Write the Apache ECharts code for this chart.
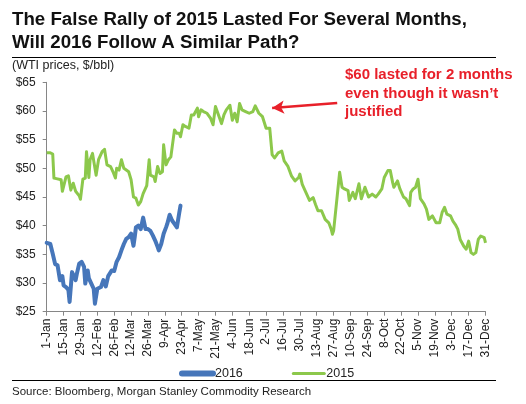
<!DOCTYPE html>
<html>
<head>
<meta charset="utf-8">
<script src="https://cdn.jsdelivr.net/npm/echarts@6/dist/echarts.min.js"></script>
<style>html,body{margin:0;padding:0;background:#fff;}#c{width:526px;height:404px;}</style>
</head>
<body>
<div id="c"></div>
<script>
var tickLabels = ['1-Jan','15-Jan','29-Jan','12-Feb','26-Feb','12-Mar','26-Mar','9-Apr','23-Apr','7-May','21-May','4-Jun','18-Jun','2-Jul','16-Jul','30-Jul','13-Aug','27-Aug','10-Sep','24-Sep','8-Oct','22-Oct','5-Nov','19-Nov','3-Dec','17-Dec','31-Dec'];

var days2015 = [0,3,5,6,8,12,13,16,18,19,20,22,24,27,28,30,32,33,35,36,38,39,41,43,46,48,50,53,55,57,58,60,62,64,68,70,72,74,76,78,80,83,85,86,89,90,92,94,96,97,99,101,103,106,108,110,111,113,115,118,120,122,125,126,128,130,133,136,138,140,142,145,147,149,152,154,156,158,160,162,165,168,171,173,176,179,182,185,187,189,192,195,197,200,203,206,209,210,212,215,218,221,223,225,228,231,234,236,237,238,241,242,243,245,247,250,251,254,256,259,261,264,267,270,273,275,278,280,283,285,287,288,291,293,296,298,301,302,304,306,308,310,313,315,317,320,323,326,328,330,332,335,337,339,341,343,346,348,350,352,354,356,358,360,363,364];
var prices2015 = [52.7,52.7,52.5,48.3,48.2,48.0,46.0,48.5,48.7,48.6,46.2,47.4,46.0,45.2,44.6,48.1,48.3,52.9,48.4,51.5,52.6,52.9,48.8,51.5,52.9,53.3,50.6,50.3,49.4,48.3,50.0,49.7,51.5,50.0,49.4,48.0,45.0,44.8,43.6,44.2,45.6,47.0,51.5,48.8,48.5,47.7,50.3,49.1,49.4,54.1,50.6,51.5,52.0,56.7,56.1,56.1,55.5,57.6,57.3,57.0,59.3,59.3,60.5,59.0,60.2,59.9,59.6,58.7,57.6,60.8,59.6,57.8,59.3,60.2,61.0,58.4,59.6,58.1,61.3,60.2,59.9,59.6,59.9,60.9,59.6,59.0,57.0,57.0,52.4,51.8,52.7,53.0,51.3,50.4,48.7,47.8,48.4,49.0,47.2,45.8,44.4,44.9,43.7,42.6,42.6,41.1,40.5,39.4,38.5,39.1,45.2,45.5,49.3,46.7,46.4,46.1,44.4,45.8,44.7,47.3,44.7,46.7,45.0,45.5,45.0,45.5,46.4,48.4,49.6,49.6,47.5,46.7,47.8,46.4,45.0,44.7,43.5,45.8,46.4,46.7,48.1,44.7,43.8,42.9,41.1,41.7,40.5,40.5,42.3,43.2,42.0,41.7,40.8,40.2,39.4,37.6,36.4,35.9,37.3,35.3,35.0,35.3,37.6,38.2,37.9,37.0];

var days2016 = [0,3,5,7,9,11,13,14,16,18,19,21,22,24,25,27,29,31,32,34,35,37,39,40,42,45,46,47,49,51,54,56,58,60,62,64,66,68,70,72,73,74,76,78,80,82,84,86,88,90,92,93,95,97,99,100,102,104,106,108,110,111];
var prices2016 = [37.0,36.8,35.1,33.3,33.1,30.5,31.2,29.6,29.3,28.8,26.7,31.9,32.2,30.5,31.6,33.4,33.7,32.8,29.9,32.2,30.8,29.9,29.0,26.4,29.0,29.3,29.0,30.5,29.4,31.2,32.2,32.1,33.7,34.5,35.7,36.8,37.7,38.0,38.6,36.5,38.0,39.7,40.0,39.4,41.4,39.4,39.4,39.1,38.3,37.4,36.3,35.7,36.8,38.6,39.7,40.3,41.9,40.9,40.3,39.7,42.3,43.5];

var seriesNames = ['2016','2015'];
var yTicks = {min:25, max:65, step:5};

function pairs(d, p){ return d.map(function(x,i){ return [x, p[i]]; }); }

var FONT = "'Liberation Sans', Arial, sans-serif";
var legendWidths = [6, 3];
var chart = echarts.init(document.getElementById('c'), null, {renderer:'canvas'});
chart.setOption({
  animation:false,
  backgroundColor:'#fff',
  textStyle:{fontFamily:FONT},
  title:{
    text:'The False Rally of 2015 Lasted For Several Months,\nWill 2016 Follow A Similar Path?',
    left:12, top:9, padding:0,
    textStyle:{fontFamily:FONT, fontSize:18.7, fontWeight:'bold', color:'#111', lineHeight:22.6}
  },
  grid:{left:46.7, right:40.5, top:82.3, bottom:92.3, containLabel:false},
  legend:{
    data:seriesNames.map(function(n,i){ return {name:n, itemStyle:{opacity:0}, lineStyle:{width:legendWidths[i], cap:'round'}}; }),
    left:174, top:362, itemWidth:31, itemHeight:8, itemGap:49,
    textStyle:{fontFamily:FONT, fontSize:12.5, color:'#222', padding:[0,0,0,-3]}
  },
  xAxis:{
    type:'value', min:0, max:364, interval:14,
    axisLine:{show:true, lineStyle:{color:'#868686', width:1}},
    axisTick:{show:true, length:4, lineStyle:{color:'#868686'}},
    splitLine:{show:false},
    axisLabel:{rotate:90, margin:7, fontSize:12, color:'#222', fontFamily:FONT,
      formatter:function(v){ return tickLabels[Math.round(v/14)] || ''; }}
  },
  yAxis:{
    type:'value', min:yTicks.min, max:yTicks.max, interval:yTicks.step,
    axisLine:{show:true, lineStyle:{color:'#868686', width:1}},
    axisTick:{show:true, length:4, lineStyle:{color:'#868686'}},
    splitLine:{show:false},
    axisLabel:{margin:11, fontSize:12, color:'#222', fontFamily:FONT, formatter:'${value}'}
  },
  series:[
    {name:'2016', type:'line', data:pairs(days2016, prices2016), showSymbol:false, symbol:'none',
     lineStyle:{color:'#4676BA', width:4, cap:'round', join:'round'}, itemStyle:{color:'#4676BA'}, z:3},
    {name:'2015', type:'line', data:pairs(days2015, prices2015), showSymbol:false, symbol:'none',
     lineStyle:{color:'#8CC84B', width:3, join:'round'}, itemStyle:{color:'#8CC84B'}, z:2,
     markLine:{silent:true, symbol:['none','arrow'], symbolSize:[10,12],
       lineStyle:{color:'#E8202A', width:2.5, type:'solid'}, label:{show:false},
       data:[[{coord:[241,61.4]},{coord:[187,60.5]}]]}}
  ],
  graphic:[
    {type:'line', shape:{x1:12, y1:57.5, x2:496, y2:57.5}, style:{stroke:'#000', lineWidth:1}},
    {type:'line', shape:{x1:12, y1:380.5, x2:496, y2:380.5}, style:{stroke:'#000', lineWidth:1}},
    {type:'text', left:12, top:59, style:{text:'(WTI prices, $/bbl)', font:"12.5px 'Liberation Sans', Arial, sans-serif", fill:'#222'}},
    {type:'text', left:345, top:66, style:{text:'$60 lasted for 2 months\neven though it wasn\u2019t\njustified', font:"bold 15px 'Liberation Sans', Arial, sans-serif", fill:'#E8202A', lineHeight:18.3}},
    {type:'text', left:12, top:386, style:{text:'Source: Bloomberg, Morgan Stanley Commodity Research', font:"11.5px 'Liberation Sans', Arial, sans-serif", fill:'#222'}}
  ]
});
</script>
</body>
</html>
